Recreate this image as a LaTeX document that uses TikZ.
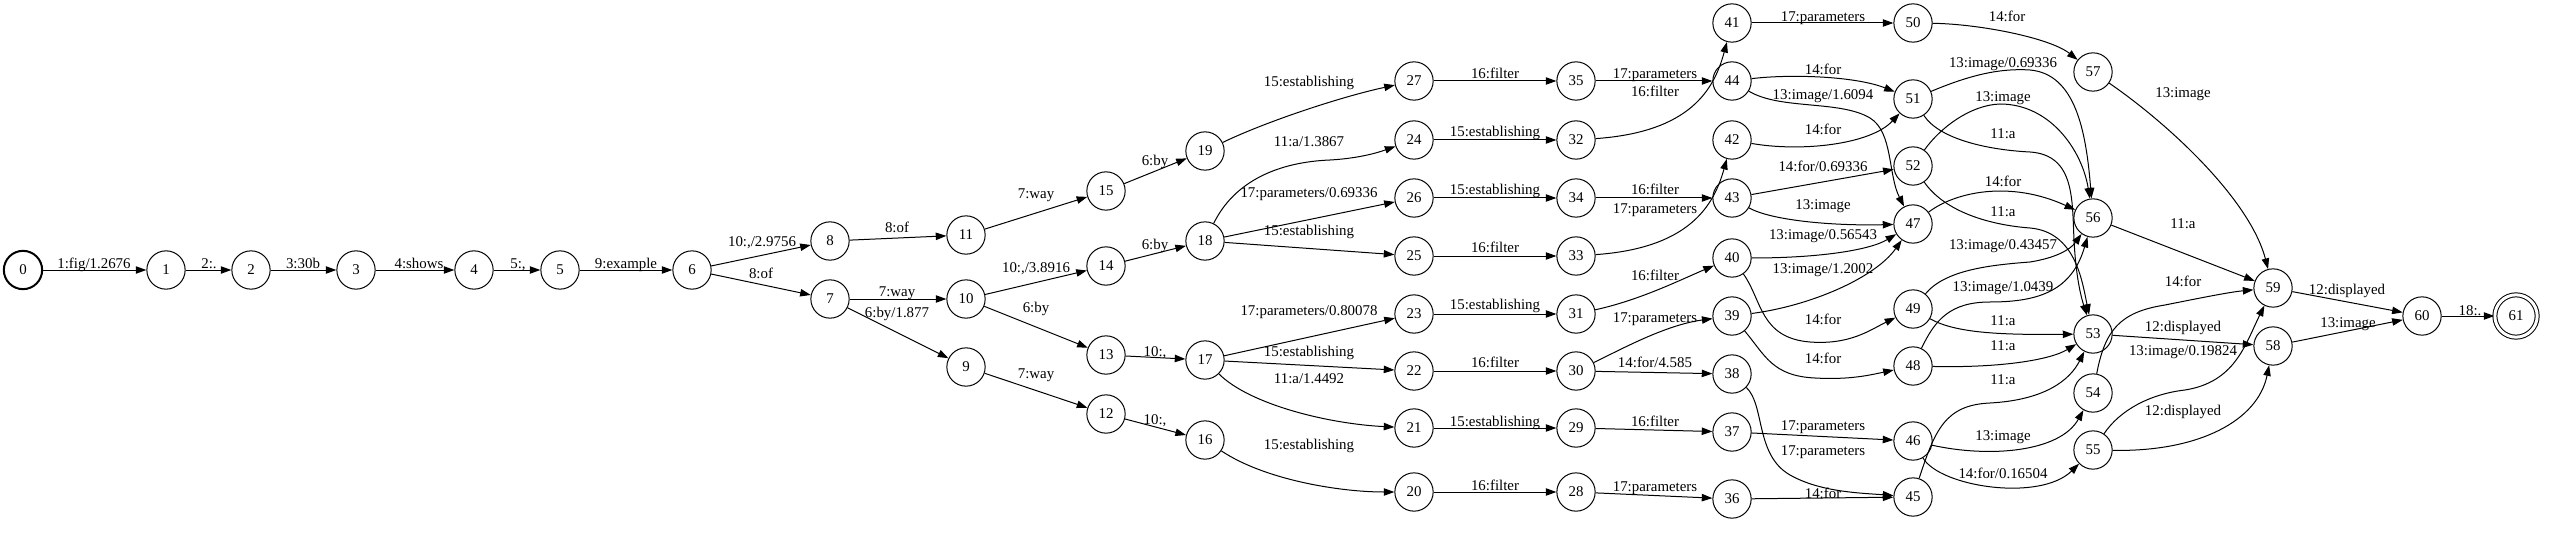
\documentclass[tikz,border=0pt]{standalone}
\usepackage{fontspec}
\setmainfont{Liberation Serif}
\usetikzlibrary{arrows.meta}
\begin{document}
\begin{tikzpicture}[x=1pt,y=-1pt]
  \tikzstyle{state}=[draw=black, circle, line width=1pt, minimum size=38.3pt, inner sep=0pt, font=\fontsize{14.9pt}{17pt}\selectfont]
  \tikzstyle{initial}=[state, line width=2pt]
  \tikzstyle{final}=[state, minimum size=42.3pt, double, double distance=3pt]
  \tikzstyle{lab}=[anchor=base, inner sep=0pt, font=\fontsize{14.9pt}{17pt}\selectfont]
  \tikzstyle{trans}=[draw=black, line width=1pt, -{Triangle[length=10.6pt,width=7.4pt]}]

  \useasboundingbox (0,0) rectangle (2550,540);

  \node [initial] (n0) at (23,270) {0};
  \node [state] (n1) at (166,270) {1};
  \node [state] (n2) at (251,270) {2};
  \node [state] (n3) at (356,270) {3};
  \node [state] (n4) at (474,270) {4};
  \node [state] (n5) at (560,270) {5};
  \node [state] (n6) at (692,270) {6};
  \node [state] (n8) at (830,241) {8};
  \node [state] (n7) at (830,299) {7};
  \node [state] (n11) at (966,235) {11};
  \node [state] (n10) at (966,299) {10};
  \node [state] (n9) at (966,367) {9};
  \node [state] (n15) at (1106,191) {15};
  \node [state] (n14) at (1106,266) {14};
  \node [state] (n13) at (1106,355) {13};
  \node [state] (n12) at (1106,414) {12};
  \node [state] (n19) at (1205,151) {19};
  \node [state] (n18) at (1205,241) {18};
  \node [state] (n17) at (1205,360) {17};
  \node [state] (n16) at (1205,440) {16};
  \node [state] (n27) at (1414,81) {27};
  \node [state] (n24) at (1414,140) {24};
  \node [state] (n26) at (1414,198) {26};
  \node [state] (n25) at (1414,256) {25};
  \node [state] (n23) at (1414,314) {23};
  \node [state] (n22) at (1414,371) {22};
  \node [state] (n21) at (1414,428) {21};
  \node [state] (n20) at (1414,492) {20};
  \node [state] (n35) at (1576,81) {35};
  \node [state] (n32) at (1576,140) {32};
  \node [state] (n34) at (1576,198) {34};
  \node [state] (n33) at (1576,256) {33};
  \node [state] (n31) at (1576,314) {31};
  \node [state] (n30) at (1576,371) {30};
  \node [state] (n29) at (1576,428) {29};
  \node [state] (n28) at (1576,492) {28};
  \node [state] (n41) at (1732,23) {41};
  \node [state] (n44) at (1732,81) {44};
  \node [state] (n42) at (1732,140) {42};
  \node [state] (n43) at (1732,198) {43};
  \node [state] (n40) at (1732,258) {40};
  \node [state] (n39) at (1732,316) {39};
  \node [state] (n38) at (1732,374) {38};
  \node [state] (n37) at (1732,432) {37};
  \node [state] (n36) at (1732,499) {36};
  \node [state] (n50) at (1913,23) {50};
  \node [state] (n51) at (1913,99) {51};
  \node [state] (n52) at (1913,166) {52};
  \node [state] (n47) at (1913,224) {47};
  \node [state] (n49) at (1913,309) {49};
  \node [state] (n48) at (1913,366) {48};
  \node [state] (n46) at (1913,441) {46};
  \node [state] (n45) at (1913,497) {45};
  \node [state] (n57) at (2093,72) {57};
  \node [state] (n56) at (2093,218) {56};
  \node [state] (n53) at (2093,334) {53};
  \node [state] (n54) at (2093,393) {54};
  \node [state] (n55) at (2093,450) {55};
  \node [state] (n59) at (2273,288) {59};
  \node [state] (n58) at (2273,346) {58};
  \node [state] (n60) at (2422,316) {60};
  \node [final] (n61) at (2516,316) {61};

  \draw [trans] (n0) -- (n1) node [lab] at (94,268) {1:fig/1.2676};
  \draw [trans] (n1) -- (n2) node [lab] at (209,268) {2:.};
  \draw [trans] (n2) -- (n3) node [lab] at (303,268) {3:30b};
  \draw [trans] (n3) -- (n4) node [lab] at (419,268) {4:shows};
  \draw [trans] (n4) -- (n5) node [lab] at (518,268) {5:,};
  \draw [trans] (n5) -- (n6) node [lab] at (626,268) {9:example};
  \draw [trans] (n6) -- (n8) node [lab] at (762,246) {10:,/2.9756};
  \draw [trans] (n6) -- (n7) node [lab] at (761,278) {8:of};
  \draw [trans] (n8) -- (n11) node [lab] at (897,233) {8:of};
  \draw [trans] (n7) -- (n10) node [lab] at (897,296) {7:way};
  \draw [trans] (n7) -- (n9) node [lab] at (897,317) {6:by/1.877};
  \draw [trans] (n11) -- (n15) node [lab] at (1036,199) {7:way};
  \draw [trans] (n10) -- (n14) node [lab] at (1036,272) {10:,/3.8916};
  \draw [trans] (n10) -- (n13) node [lab] at (1036,312) {6:by};
  \draw [trans] (n9) -- (n12) node [lab] at (1036,378) {7:way};
  \draw [trans] (n15) -- (n19) node [lab] at (1155,166) {6:by};
  \draw [trans] (n14) -- (n18) node [lab] at (1155,249) {6:by};
  \draw [trans] (n13) -- (n17) node [lab] at (1155,356) {10:,};
  \draw [trans] (n12) -- (n16) node [lab] at (1155,424) {10:,};

  \draw [trans] (n19) .. controls (1265,122) and (1340,97) .. (n27) node [lab] at (1309,87) {15:establishing};
  \draw [trans] (n18) .. controls (1235,180) and (1280,162) .. (1330,160) .. controls (1365,158) and (1385,150) .. (n24) node [lab] at (1309,147) {11:a/1.3867};
  \draw [trans] (n18) -- (n26) node [lab] at (1309,198) {17:parameters/0.69336};
  \draw [trans] (n18) -- (n25) node [lab] at (1309,236) {15:establishing};
  \draw [trans] (n17) -- (n23) node [lab] at (1309,315) {17:parameters/0.80078};
  \draw [trans] (n17) -- (n22) node [lab] at (1309,356) {15:establishing};
  \draw [trans] (n17) .. controls (1250,405) and (1330,424) .. (n21) node [lab] at (1309,383) {11:a/1.4492};
  \draw [trans] (n16) .. controls (1265,480) and (1340,492) .. (n20) node [lab] at (1309,449) {15:establishing};

  \draw [trans] (n27) -- (n35) node [lab] at (1495,79) {16:filter};
  \draw [trans] (n24) -- (n32) node [lab] at (1495,137) {15:establishing};
  \draw [trans] (n26) -- (n34) node [lab] at (1495,195) {15:establishing};
  \draw [trans] (n25) -- (n33) node [lab] at (1495,252) {16:filter};
  \draw [trans] (n23) -- (n31) node [lab] at (1495,309) {15:establishing};
  \draw [trans] (n22) -- (n30) node [lab] at (1495,367) {16:filter};
  \draw [trans] (n21) -- (n29) node [lab] at (1495,426) {15:establishing};
  \draw [trans] (n20) -- (n28) node [lab] at (1495,490) {16:filter};

  \draw [trans] (n35) -- (n44) node [lab] at (1655,79) {17:parameters};
  \draw [trans] (n32) .. controls (1690,132) and (1714,90) .. (n41) node [lab] at (1655,97) {16:filter};
  \draw [trans] (n34) -- (n43) node [lab] at (1655,194) {16:filter};
  \draw [trans] (n33) .. controls (1690,248) and (1714,205) .. (n42) node [lab] at (1655,213) {17:parameters};
  \draw [trans] (n31) .. controls (1640,300) and (1680,280) .. (n40) node [lab] at (1655,280) {16:filter};
  \draw [trans] (n30) .. controls (1620,350) and (1665,325) .. (n39) node [lab] at (1655,322) {17:parameters};
  \draw [trans] (n30) -- (n38) node [lab] at (1655,367) {14:for/4.585};
  \draw [trans] (n29) -- (n37) node [lab] at (1655,426) {16:filter};
  \draw [trans] (n28) -- (n36) node [lab] at (1655,491) {17:parameters};

  \draw [trans] (n41) -- (n50) node [lab] at (1823,22) {17:parameters};
  \draw [trans] (n44) .. controls (1790,74) and (1855,76) .. (n51) node [lab] at (1823,75) {14:for};
  \draw [trans] (n44) .. controls (1780,110) and (1840,100) .. (1870,118) .. controls (1893,132) and (1888,175) .. (n47) node [lab] at (1823,100) {13:image/1.6094};
  \draw [trans] (n42) .. controls (1800,152) and (1870,145) .. (n51) node [lab] at (1823,135) {14:for};
  \draw [trans] (n43) -- (n52) node [lab] at (1823,172) {14:for/0.69336};
  \draw [trans] (n43) .. controls (1770,220) and (1830,226) .. (n47) node [lab] at (1823,210) {13:image};
  \draw [trans] (n40) .. controls (1820,258) and (1870,250) .. (n47) node [lab] at (1823,240) {13:image/0.56543};
  \draw [trans] (n39) .. controls (1810,306) and (1875,278) .. (n47) node [lab] at (1823,273) {13:image/1.2002};
  \draw [trans] (n40) .. controls (1762,300) and (1760,338) .. (1810,342) .. controls (1850,345) and (1870,330) .. (n49) node [lab] at (1823,324) {14:for};
  \draw [trans] (n39) .. controls (1765,355) and (1772,376) .. (1815,378) .. controls (1850,380) and (1870,375) .. (n48) node [lab] at (1823,363) {14:for};
  \draw [trans] (n37) -- (n46) node [lab] at (1823,430) {17:parameters};
  \draw [trans] (n38) .. controls (1765,405) and (1755,455) .. (1790,475) .. controls (1820,492) and (1860,493) .. (n45) node [lab] at (1823,455) {17:parameters};
  \draw [trans] (n36) -- (n45) node [lab] at (1823,498) {14:for};

  \draw [trans] (n50) .. controls (1980,24) and (2050,38) .. (n57) node [lab] at (2007,22) {14:for};
  \draw [trans] (n51) .. controls (1970,75) and (2000,68) .. (2030,70) .. controls (2075,74) and (2086,130) .. (n56) node [lab] at (2003,68) {13:image/0.69336};
  \draw [trans] (n52) .. controls (1940,128) and (1970,105) .. (2000,104) .. controls (2050,104) and (2082,150) .. (n56) node [lab] at (2003,102) {13:image};
  \draw [trans] (n51) .. controls (1940,140) and (1990,150) .. (2030,152) .. controls (2075,155) and (2072,200) .. (2074,240) .. controls (2076,280) and (2082,300) .. (n53) node [lab] at (2003,139) {11:a};
  \draw [trans] (n47) .. controls (1955,192) and (2010,180) .. (n56) node [lab] at (2003,187) {14:for};
  \draw [trans] (n52) .. controls (1945,212) and (1990,225) .. (2030,228) .. controls (2075,232) and (2082,280) .. (n53) node [lab] at (2003,216) {11:a};
  \draw [trans] (n49) .. controls (1945,270) and (1990,265) .. (2030,262) .. controls (2055,258) and (2070,250) .. (n56) node [lab] at (2003,249) {13:image/0.43457};
  \draw [trans] (n48) .. controls (1935,320) and (1950,302) .. (1990,302) .. controls (2040,302) and (2072,290) .. (n56) node [lab] at (2003,291) {13:image/1.0439};
  \draw [trans] (n49) .. controls (1955,333) and (2000,335) .. (n53) node [lab] at (2003,325) {11:a};
  \draw [trans] (n48) .. controls (2000,368) and (2050,360) .. (n53) node [lab] at (2003,350) {11:a};
  \draw [trans] (n45) .. controls (1935,430) and (1945,405) .. (1990,403) .. controls (2045,400) and (2070,380) .. (n53) node [lab] at (2003,384) {11:a};
  \draw [trans] (n46) .. controls (1990,458) and (2060,452) .. (n54) node [lab] at (2003,440) {13:image};
  \draw [trans] (n46) .. controls (1940,487) and (2040,502) .. (n55) node [lab] at (2003,478) {14:for/0.16504};

  \draw [trans] (n57) .. controls (2170,125) and (2250,200) .. (n59) node [lab] at (2183,98) {13:image};
  \draw [trans] (n56) -- (n59) node [lab] at (2183,228) {11:a};
  \draw [trans] (n54) .. controls (2105,330) and (2120,312) .. (2165,305) .. controls (2200,298) and (2230,292) .. (n59) node [lab] at (2183,286) {14:for};
  \draw [trans] (n53) -- (n58) node [lab] at (2183,331) {12:displayed};
  \draw [trans] (n55) .. controls (2120,410) and (2150,394) .. (2185,390) .. controls (2235,382) and (2245,345) .. (n59) node [lab] at (2183,355) {13:image/0.19824};
  \draw [trans] (n55) .. controls (2200,452) and (2258,420) .. (n58) node [lab] at (2183,415) {12:displayed};

  \draw [trans] (n59) -- (n60) node [lab] at (2347,294) {12:displayed};
  \draw [trans] (n58) -- (n60) node [lab] at (2348,327) {13:image};
  \draw [trans] (n60) -- (n61) node [lab] at (2470,315) {18:.};
\end{tikzpicture}
\end{document}
